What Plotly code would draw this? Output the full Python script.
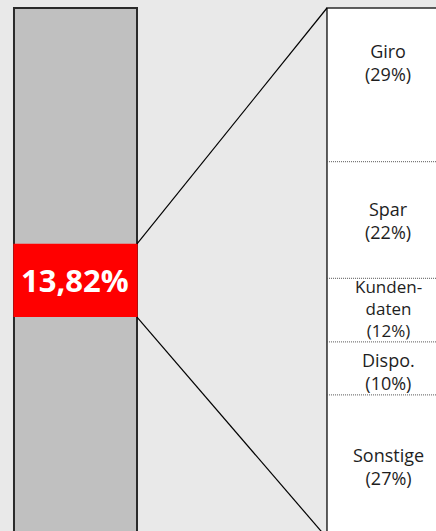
import plotly.graph_objects as go

# ---- data ----
categories = ["Giro", "Spar", "Kunden-<br>daten", "Dispo.", "Sonstige"]
shares = [29, 22, 12, 10, 27]
highlight_value = 13.82
highlight_label = "13,82%"
total = 100

# ---- layout constants ----
highlight_offset = 44.5          # where the red segment starts in the left bar
bar_w = 0.393
label_shift = [22, 0, 2, -3, 0]  # vertical nudges for the labels (px)
label_size = [18, 18, 17, 18, 18]
BG = "#e9e9e9"
EDGE = "#2a2a2a"

fig = go.Figure()

# left bar (whole)
fig.add_trace(go.Bar(x=[0], y=[total], base=[0], width=bar_w,
                     marker=dict(color="#c0c0c0", line=dict(color=EDGE, width=2)),
                     hoverinfo="skip", showlegend=False))
# highlighted share
fig.add_trace(go.Bar(x=[0], y=[highlight_value], base=[highlight_offset], width=bar_w + 0.004,
                     marker=dict(color="#ff0000", line=dict(width=0)),
                     hoverinfo="skip", showlegend=False))
# right bar (breakdown)
fig.add_trace(go.Bar(x=[1], y=[total], base=[0], width=bar_w,
                     marker=dict(color="#ffffff", line=dict(color=EDGE, width=1.5)),
                     hoverinfo="skip", showlegend=False))

# dotted separators
cum = 0
bounds = []
for s in shares:
    cum += s
    bounds.append(cum)
for b in bounds[:-1]:
    fig.add_trace(go.Scatter(x=[1 - bar_w / 2, 1 + bar_w / 2], y=[b, b], mode="lines",
                             line=dict(color="#555555", width=1, dash="1px,1px"),
                             hoverinfo="skip", showlegend=False))

# connector lines
fig.add_trace(go.Scatter(x=[bar_w / 2, 1 - bar_w / 2], y=[highlight_offset, 0], mode="lines",
                         line=dict(color="#000000", width=1.2), hoverinfo="skip", showlegend=False))
fig.add_trace(go.Scatter(x=[bar_w / 2, 1 - bar_w / 2], y=[highlight_offset + highlight_value, total],
                         mode="lines", line=dict(color="#000000", width=1.2),
                         hoverinfo="skip", showlegend=False))

# labels
annotations = []
start = 0
for cat, s, sh, fs in zip(categories, shares, label_shift, label_size):
    annotations.append(dict(x=1, y=start + s / 2, xref="x", yref="y",
                            text=f"{cat}<br>({s}%)", showarrow=False, yshift=sh,
                            font=dict(family="Open Sans", size=fs, color="#1e1e1e"),
                            align="center"))
    start += s
annotations.append(dict(x=0, y=highlight_offset + highlight_value / 2, xref="x", yref="y",
                        text=f"<b>{highlight_label}</b>", showarrow=False,
                        font=dict(family="Open Sans", size=31, color="#ffffff")))

fig.update_layout(
    width=436, height=531,
    margin=dict(l=0, r=0, t=0, b=0),
    paper_bgcolor=BG, plot_bgcolor=BG,
    barmode="overlay",
    xaxis=dict(range=[-0.2412, 1.1518], visible=False, fixedrange=True),
    yaxis=dict(range=[98.68, -1.51], visible=False, fixedrange=True),
    annotations=annotations,
    showlegend=False,
)

fig.write_html(
    "out.html",
    config={"displayModeBar": False},
    post_script="document.body.style.margin='0';document.body.style.overflow='hidden';"
                "document.body.style.background='#e9e9e9';",
)
